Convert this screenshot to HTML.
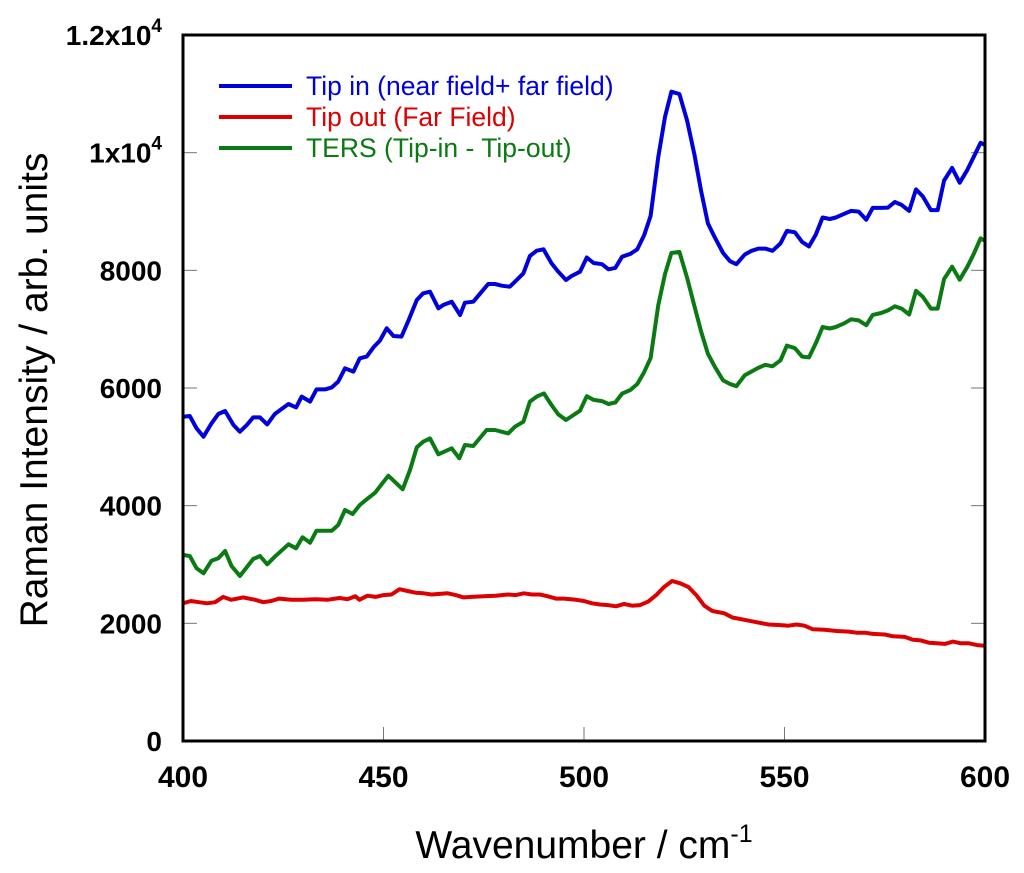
<!DOCTYPE html>
<html><head><meta charset="utf-8"><style>
html,body{margin:0;padding:0;background:#fff;}
svg{display:block;font-family:"Liberation Sans",Arial,sans-serif;}
</style></head><body>
<svg id="chart" width="1024" height="873" viewBox="0 0 1024 873" xmlns="http://www.w3.org/2000/svg">
<g id="ticks"></g>
<g id="series"></g>
<rect x="183" y="35" width="802" height="706" fill="none" stroke="#000" stroke-width="3"/>
<g id="labels" font-weight="bold" fill="#000"></g>
<text x="584" y="858" font-size="39" text-anchor="middle">Wavenumber / cm<tspan dy="-16" font-size="25">-1</tspan></text>
<text transform="translate(47,390) rotate(-90)" font-size="39" text-anchor="middle">Raman Intensity / arb. units</text>
<g font-size="26.5">
<line x1="219" y1="86" x2="292" y2="86" stroke="#0000dd" stroke-width="4"/>
<text x="306" y="95" fill="#0000dd">Tip in (near field+ far field)</text>
<line x1="219" y1="117" x2="292" y2="117" stroke="#dd0000" stroke-width="4"/>
<text x="306" y="126" fill="#dd0000">Tip out (Far Field)</text>
<line x1="219" y1="148" x2="292" y2="148" stroke="#0a7a12" stroke-width="4"/>
<text x="306" y="157" fill="#0a7a12">TERS (Tip-in - Tip-out)</text>
</g>
</svg>
<script>
const xTicks=[400,450,500,550,600];
const yTicks=[0,2000,4000,6000,8000,10000,12000];
const yTickLabels=["0","2000","4000","6000","8000","1x10^4","1.2x10^4"];
const blueX=[400.1,401.7,403.4,405.1,407.1,408.8,410.5,412.6,414.2,415.9,417.5,419.2,421.0,422.9,424.6,426.3,428.2,429.6,431.7,433.3,435.4,437.1,438.7,440.4,442.5,444.1,445.8,447.5,449.1,450.8,452.5,454.5,456.2,458.3,459.9,461.6,463.7,464.9,467.0,469.1,470.3,472.4,474.5,476.1,477.8,479.5,481.5,482.8,484.9,486.5,488.2,489.9,491.9,493.6,495.5,496.9,499.0,500.7,502.4,504.5,506.1,507.8,509.5,511.6,513.3,515.0,516.6,518.5,520.2,521.8,523.8,525.7,527.5,529.2,530.9,532.6,534.7,536.4,538.0,540.1,541.8,543.5,545.2,547.0,549.0,550.6,552.6,554.4,556.1,557.8,559.5,561.3,562.8,564.9,566.6,568.5,570.4,572.0,574.1,575.8,577.5,579.2,581.1,582.8,584.5,586.5,588.2,589.8,591.8,593.7,595.6,597.2,598.9,600.6];
const blueY=[5513,5524,5314,5173,5399,5558,5609,5371,5258,5371,5501,5501,5382,5558,5643,5728,5671,5853,5768,5977,5977,6011,6108,6334,6278,6504,6533,6691,6805,7014,6884,6873,7144,7496,7609,7637,7354,7411,7467,7241,7450,7467,7637,7768,7768,7739,7722,7807,7949,8244,8334,8357,8119,7977,7836,7904,7977,8218,8124,8105,8017,8042,8231,8281,8357,8596,8923,9917,10608,11036,10998,10545,9979,9350,8797,8564,8294,8155,8105,8269,8332,8369,8369,8332,8457,8671,8646,8483,8407,8608,8898,8873,8898,8961,9011,8999,8860,9061,9061,9067,9162,9112,9011,9376,9256,9024,9024,9527,9741,9489,9709,9929,10168,10130];
const greenX=[400.1,401.7,403.4,405.1,407.1,408.8,410.5,412.1,414.2,417.5,419.2,421.0,422.9,426.3,428.2,429.8,431.7,433.3,437.1,438.7,440.4,442.3,444.1,445.8,447.9,451.2,454.8,456.6,458.3,459.9,461.6,463.7,467.0,468.9,470.3,472.4,475.7,477.8,481.1,482.8,484.9,486.5,488.2,490.0,491.9,493.6,495.5,499.0,500.7,502.4,504.5,506.1,507.8,509.5,511.6,513.3,515.0,516.6,518.5,520.2,521.8,523.8,525.7,527.5,529.2,530.9,532.6,534.7,536.4,538.0,540.1,541.8,543.5,545.2,547.0,549.0,550.6,552.6,554.4,556.1,557.8,559.5,561.3,562.8,564.9,566.6,568.5,570.4,572.0,574.1,575.8,577.5,579.2,581.1,582.8,584.5,586.5,588.2,589.8,591.8,593.7,595.6,597.2,598.9,600.6];
const greenY=[3161,3144,2935,2850,3065,3105,3229,2975,2805,3093,3144,3003,3133,3343,3275,3462,3371,3575,3575,3671,3926,3858,4011,4108,4221,4510,4278,4606,4992,5088,5144,4873,4975,4805,5031,5014,5286,5286,5229,5343,5428,5768,5853,5909,5711,5552,5456,5615,5860,5797,5778,5728,5753,5904,5967,6068,6269,6508,7401,7936,8294,8313,7873,7401,6961,6583,6363,6130,6068,6030,6218,6281,6344,6394,6369,6470,6721,6677,6533,6520,6759,7036,7011,7036,7099,7168,7149,7067,7243,7275,7319,7388,7350,7250,7652,7551,7350,7350,7853,8061,7841,8061,8281,8545,8501];
const redX=[400,402,404,406,408,410,412,415,418,420,422,424,427,430,433,436,439,441,443,444,446,448,450,452,454,456,458,460,462,464,466,468,470,472,475,478,481,483,485,487,489,491,493,495,498,500,502,504,506,508,510,512,514,516,518,520,522,524,526,528,530,532,535,537,540,543,546,549,551,553,555,557,560,563,566,568,570,572,575,577,580,582,584,586,588,590,592,594,596,598,600];
const redY=[2340,2380,2360,2340,2360,2450,2400,2440,2400,2360,2380,2420,2400,2400,2410,2400,2430,2410,2460,2400,2470,2450,2480,2490,2580,2550,2520,2510,2490,2500,2510,2480,2440,2450,2460,2470,2490,2480,2510,2490,2490,2460,2420,2420,2400,2380,2340,2320,2310,2290,2330,2300,2310,2370,2480,2620,2720,2680,2620,2480,2300,2210,2170,2100,2060,2020,1980,1970,1960,1980,1960,1900,1890,1870,1860,1840,1840,1820,1810,1780,1770,1720,1710,1670,1660,1650,1690,1660,1660,1630,1620];

const NS='http://www.w3.org/2000/svg';
const X0=183,X1=985,Y0=741,Y1=35;
function xs(v){return X0+(v-400)/200*(X1-X0);}
function ys(v){return Y0-(v/12000)*(Y0-Y1);}
function mk(tag,attrs,parent){const e=document.createElementNS(NS,tag);for(const k in attrs)e.setAttribute(k,attrs[k]);parent.appendChild(e);return e;}
const tg=document.getElementById('ticks'),lg=document.getElementById('labels'),sg=document.getElementById('series');
yTicks.forEach((t,i)=>{
  const a=mk('line',{x1:X0,x2:X0+14,y1:ys(t),y2:ys(t),stroke:'#777','stroke-width':1},tg);
  
  
  const b=mk('line',{x1:X1-14,x2:X1,y1:ys(t),y2:ys(t),stroke:'#777','stroke-width':1},tg);
  
  
  const lab=yTickLabels[i];
  const tx=mk('text',{x:162,y:ys(t)+10,'text-anchor':'end','font-size':28},lg);
  
  
  if(lab.indexOf('^')>=0){const p=lab.split('^');tx.textContent=p[0];const s=mk('tspan',{dy:-13,'font-size':19},tx);s.textContent=p[1];}
  else tx.textContent=lab;
});
xTicks.forEach(t=>{
  const a=mk('line',{x1:xs(t),x2:xs(t),y1:Y0,y2:Y0-14,stroke:'#777','stroke-width':1},tg);
  
  
  const tx=mk('text',{x:xs(t),y:787,'text-anchor':'middle','font-size':30},lg);
  
  
  tx.textContent=String(t);
});
function line(xa,ya,color,name){
  const d=xa.map((x,i)=>(i?'L':'M')+xs(Math.min(600,x)).toFixed(1)+','+ys(ya[i]).toFixed(1)).join('');
  const p=mk('path',{d:d,fill:'none',stroke:color,'stroke-width':4,'stroke-linejoin':'round'},sg);
  
  
}
line(redX,redY,'#dd0000','tip-out-line');
line(greenX,greenY,'#0a7a12','ters-line');
line(blueX,blueY,'#0000dd','tip-in-line');
</script>
</body></html>
